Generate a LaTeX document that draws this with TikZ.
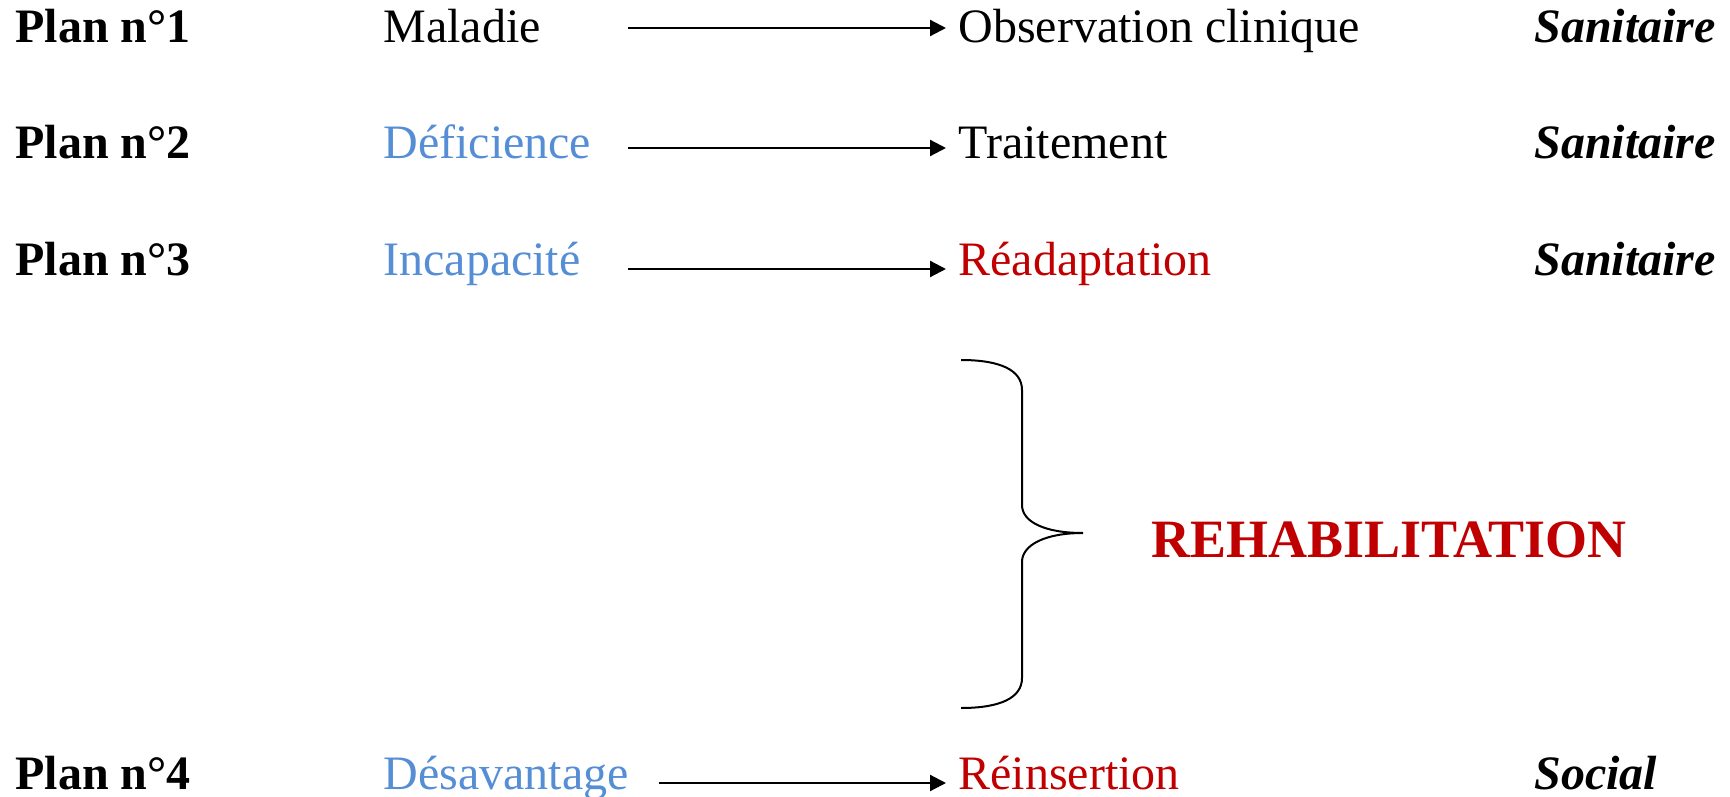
\documentclass[tikz,border=0pt]{standalone}
\usepackage{fontspec}
\setmainfont{Liberation Serif}
\usetikzlibrary{arrows.meta}
\definecolor{blu}{RGB}{85,142,213}
\definecolor{rd}{RGB}{192,0,0}
\begin{document}
\begin{tikzpicture}[x=0.5pt,y=-0.5pt,
  txt/.style={anchor=base west,inner sep=0pt,font=\fontsize{24pt}{28pt}\selectfont},
  plan/.style={txt,font=\fontsize{24pt}{28pt}\selectfont\bfseries},
  dom/.style={txt,font=\fontsize{24pt}{28pt}\selectfont\bfseries\itshape},
  arr/.style={line width=1.1pt,-{Triangle[length=8pt,width=8pt]}},
  brace/.style={line width=1pt}]
\useasboundingbox (0,0) rectangle (1730,797);
% row 1
\node[plan] (p1) at (15,43) {Plan n°1};
\node[txt] (b1) at (383,43) {Maladie};
\node[txt] (c1) at (958,43) {Observation clinique};
\node[dom] (d1) at (1534,43) {Sanitaire};
\coordinate (s1) at (628,28); \coordinate (e1) at (946,28);
\draw[arr] (s1) -- (e1);
% row 2
\node[plan] (p2) at (15,159) {Plan n°2};
\node[txt,text=blu] (b2) at (383,159) {Déficience};
\node[txt] (c2) at (958,159) {Traitement};
\node[dom] (d2) at (1534,159) {Sanitaire};
\coordinate (s2) at (628,148); \coordinate (e2) at (946,148);
\draw[arr] (s2) -- (e2);
% row 3
\node[plan] (p3) at (15,275) {Plan n°3};
\node[txt,text=blu] (b3) at (383,275) {Incapacité};
\node[txt,text=rd] (c3) at (958,275) {Réadaptation};
\node[dom] (d3) at (1534,275) {Sanitaire};
\coordinate (s3) at (628,269); \coordinate (e3) at (946,269);
\draw[arr] (s3) -- (e3);
% brace
\draw[brace] (961,360) .. controls (1000,360) and (1022,370) .. (1022,390)
  -- (1022,505) .. controls (1022,522) and (1045,533) .. (1083,533)
  .. controls (1045,533) and (1022,545) .. (1022,562)
  -- (1022,678) .. controls (1022,698) and (1000,708) .. (961,708);
\node[txt,font=\fontsize{27pt}{30pt}\selectfont\bfseries,text=rd] (rh) at (1151,557) {REHABILITATION};
% row 4
\node[plan] (p4) at (15,789) {Plan n°4};
\node[txt,text=blu] (b4) at (383,789) {Désavantage};
\node[txt,text=rd] (c4) at (958,789) {Réinsertion};
\node[dom] (d4) at (1534,789) {Social};
\coordinate (s4) at (659,783); \coordinate (e4) at (946,783);
\draw[arr] (s4) -- (e4);
\end{tikzpicture}
\end{document}
